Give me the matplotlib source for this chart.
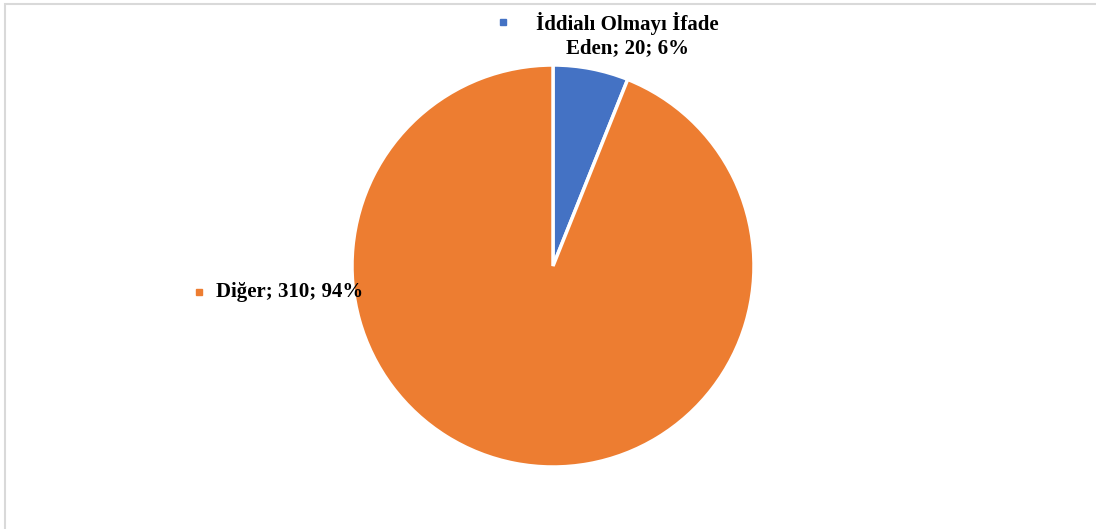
import matplotlib.pyplot as plt
from matplotlib.patches import Rectangle

# Veri
kategoriler = ["İddialı Olmayı İfade\nEden", "Diğer"]
degerler = [20, 310]
renkler = ["#4472C4", "#ED7D31"]

W, H = 1096, 529
fig = plt.figure(figsize=(W / 100, H / 100), dpi=100)
ax = fig.add_axes([0, 0, 1, 1])

toplam = sum(degerler)
merkez = (553, H - 266)

ax.pie(degerler, colors=renkler, startangle=90, counterclock=False,
       radius=201, center=merkez,
       wedgeprops=dict(edgecolor="white", linewidth=2.5))

ax.set_xlim(0, W)
ax.set_ylim(0, H)
ax.set_aspect("equal")
ax.axis("off")

# Dış çerçeve
ax.add_patch(Rectangle((5, -10), W + 20, H - 2 + 10 - 2, fill=False,
                       edgecolor="#d9d9d9", linewidth=1.5, clip_on=False))

yazi = dict(family="Liberation Serif", weight="bold", fontsize=15, color="black")

# Etiketler (kategori; değer; yüzde)
etiketler = [f"{k}; {v}; {v / toplam * 100:.0f}%" for k, v in zip(kategoriler, degerler)]

ax.text(627, H - 35, etiketler[0], ha="center", va="center", linespacing=1.2, **yazi)
ax.plot(503, H - 22, marker="s", markersize=5, color=renkler[0])

ax.text(216, H - 292, etiketler[1], ha="left", va="center", **yazi)
ax.plot(199, H - 292, marker="s", markersize=5, color=renkler[1])

fig.savefig("out.png", dpi=100)
